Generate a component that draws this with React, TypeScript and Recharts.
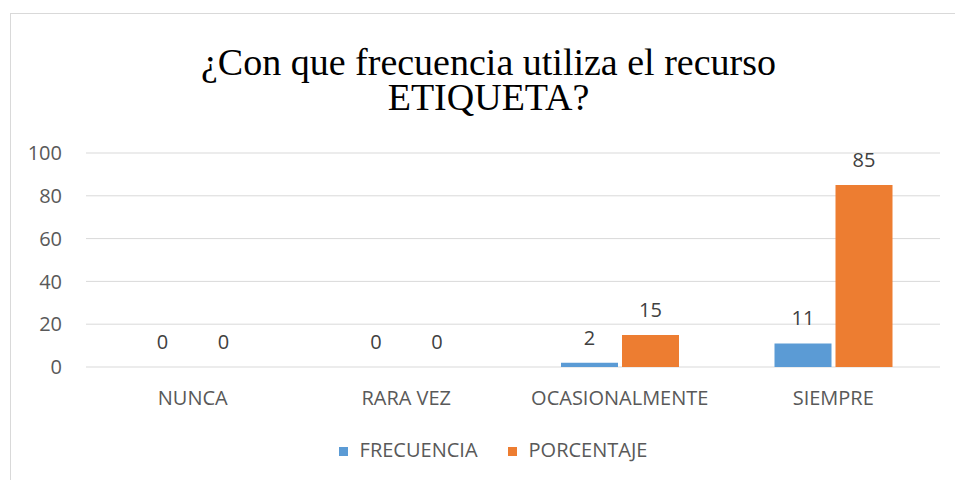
import React from 'react';
import { Bar, BarChart, CartesianGrid, LabelList, Legend, XAxis, YAxis } from 'recharts';

// Valores
const CATEGORIAS = ['NUNCA', 'RARA VEZ', 'OCASIONALMENTE', 'SIEMPRE'];
const FRECUENCIA = [0, 0, 2, 11];
const PORCENTAJE = [0, 0, 15, 85];
const Y_TICKS = [0, 20, 40, 60, 80, 100];
const BORDES = [0, 1, 2, 3, 4];

const AZUL = '#5b9bd5';
const NARANJA = '#ed7d31';
const FONT = '"Open Sans", sans-serif';

const data = CATEGORIAS.map((c, i) => ({
  cat: c,
  FRECUENCIA: FRECUENCIA[i],
  PORCENTAJE: PORCENTAJE[i],
}));

export default function App() {
  return (
    <div
      style={{
        position: 'absolute',
        left: 0,
        top: 0,
        width: 955,
        height: 480,
        overflow: 'hidden',
        background: '#fff',
      }}
    >
      <div
        style={{
          position: 'absolute',
          left: 10,
          top: 13,
          width: 970,
          height: 490,
          border: '1px solid #d9d9d9',
        }}
      />
      <div
        style={{
          position: 'absolute',
          left: 0,
          top: 45,
          width: 977,
          textAlign: 'center',
          fontFamily: '"Liberation Serif", "Times New Roman", serif',
          fontSize: 38,
          lineHeight: '35px',
          color: '#000',
        }}
      >
        ¿Con que frecuencia utiliza el recurso
        <br />
        ETIQUETA?
      </div>
      <div style={{ position: 'absolute', left: 0, top: 0 }}>
        <BarChart
          width={955}
          height={480}
          data={data}
          margin={{ top: 153, right: 15, left: 10, bottom: 17 }}
          barSize={57}
          barGap={4}
        >
          <CartesianGrid vertical={false} stroke="#d9d9d9" />
          <XAxis
            xAxisId="bordes"
            type="number"
            domain={[0, 4]}
            ticks={BORDES}
            tick={false}
            tickSize={6}
            height={0}
            stroke="#d9d9d9"
          />
          <XAxis
            dataKey="cat"
            axisLine={false}
            tickLine={false}
            tickSize={0}
            tickMargin={24}
            height={69}
            interval={0}
            tick={{ fill: '#595959', fontSize: 20, fontFamily: FONT }}
          />
          <YAxis
            width={76}
            domain={[0, 100]}
            ticks={Y_TICKS}
            axisLine={false}
            tickLine={false}
            tickSize={0}
            tickMargin={24}
            tick={{ fill: '#595959', fontSize: 20, fontFamily: FONT }}
          />
          <Legend
            iconType="square"
            iconSize={9}
            wrapperStyle={{ left: 43, fontFamily: FONT, fontSize: 20, color: '#595959' }}
            formatter={(v) => (
              <span style={{ color: '#595959', marginLeft: 8, marginRight: 20 }}>{v}</span>
            )}
          />
          <Bar dataKey="FRECUENCIA" fill={AZUL} minPointSize={0.01} isAnimationActive={false}>
            <LabelList
              dataKey="FRECUENCIA"
              position="top"
              offset={18}
              fill="#404040"
              fontSize={20}
              fontFamily={FONT}
            />
          </Bar>
          <Bar dataKey="PORCENTAJE" fill={NARANJA} minPointSize={0.01} isAnimationActive={false}>
            <LabelList
              dataKey="PORCENTAJE"
              position="top"
              offset={18}
              fill="#404040"
              fontSize={20}
              fontFamily={FONT}
            />
          </Bar>
        </BarChart>
      </div>
    </div>
  );
}
